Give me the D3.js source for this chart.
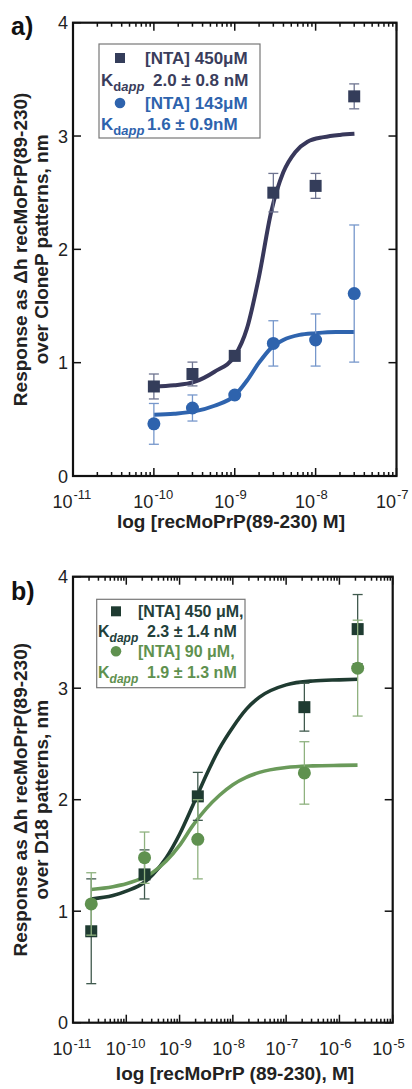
<!DOCTYPE html>
<meta charset="utf-8">
<html>
<head>
<style>
  body { margin: 0; background: #fff; }
  text { font-family: "Liberation Sans", Arial, sans-serif; }
  text.tick { font-size: 18px; fill: #222; }
  text.sup { font-size: 13px; fill: #222; }
  text.title { font-size: 19px; font-weight: bold; fill: #222; }
  text.panel { font-size: 25px; font-weight: bold; fill: #111; }
  text.leg { font-weight: bold; }
</style>
<script src="https://cdn.jsdelivr.net/npm/d3@7"></script>
</head>
<body>
<div id="chart"></div>
<script>
// ---- panel a data (CloneP patterns) ----
var concA = [1e-10, 3e-10, 1e-9, 3e-9, 1e-8, 3e-8];
var a450 = [0.79, 0.90, 1.06, 2.50, 2.56, 3.35];
var a450err = [0.11, 0.105, 0.03, 0.17, 0.11, 0.11];
var a143 = [0.46, 0.60, 0.715, 1.17, 1.20, 1.61];
var a143err = [0.18, 0.115, 0.03, 0.20, 0.23, 0.605];
// fitted curves: log10 conc / response
var fitA450_logx = [-10, -9.75, -9.5, -9.25, -9, -8.85, -8.7, -8.55, -8.4, -8.25, -8.1, -7.9, -7.7, -7.52];
var fitA450_y    = [0.79, 0.80, 0.83, 0.92, 1.06, 1.30, 1.76, 2.33, 2.68, 2.86, 2.95, 2.99, 3.01, 3.02];
var fitA143_logx = [-10, -9.75, -9.5, -9.25, -9, -8.85, -8.7, -8.55, -8.4, -8.2, -8, -7.75, -7.52];
var fitA143_y    = [0.54, 0.55, 0.57, 0.62, 0.71, 0.84, 1.00, 1.13, 1.20, 1.245, 1.26, 1.27, 1.27];

// ---- panel b data (D18 patterns) ----
var concB = [2.2e-11, 2.2e-10, 2.2e-9, 2.2e-7, 2.2e-6];
var b450 = [0.82, 1.33, 2.03, 2.83, 3.53];
var b450err = [0.47, 0.22, 0.215, 0.215, 0.31];
var b90 = [1.065, 1.48, 1.645, 2.24, 3.18];
var b90err = [0.28, 0.23, 0.355, 0.28, 0.43];
var fitB450_logx = [-10.66, -10.25, -10, -9.66, -9.5, -9.25, -9, -8.75, -8.5, -8.25, -8, -7.75, -7.5, -7, -6.5, -6, -5.66];
var fitB450_y    = [1.11, 1.14, 1.18, 1.26, 1.33, 1.48, 1.69, 1.95, 2.22, 2.46, 2.65, 2.81, 2.92, 3.03, 3.065, 3.075, 3.08];
var fitB90_logx  = [-10.66, -10.25, -10, -9.66, -9.5, -9.25, -9, -8.75, -8.5, -8.25, -8, -7.75, -7.5, -7, -6.5, -6, -5.66];
var fitB90_y     = [1.195, 1.22, 1.246, 1.305, 1.35, 1.45, 1.59, 1.77, 1.92, 2.04, 2.135, 2.20, 2.245, 2.288, 2.303, 2.308, 2.31];

var yTicks = [0, 1, 2, 3, 4];

var svg = d3.select("#chart").append("svg")
    .attr("width", 412)
    .attr("height", 1089);

function drawPanel(p) {
  var x = d3.scaleLog().domain(p.xDomain).range([p.left, p.right]);
  var y = d3.scaleLinear().domain([0, 4]).range([p.bottom, p.top]);
  var g = svg.append("g");

  // curves
  var line = d3.line()
      .x(function(d) { return x(Math.pow(10, d[0])); })
      .y(function(d) { return y(d[1]); })
      .curve(d3.curveMonotoneX);
  p.series.forEach(function(s) {
    g.append("path")
      .datum(d3.zip(s.fitX, s.fitY))
      .attr("d", line)
      .attr("fill", "none")
      .attr("stroke", s.curveColor)
      .attr("stroke-width", p.curveWidth)
      .attr("stroke-linecap", "butt");
  });

  // error bars + markers
  p.series.forEach(function(s) {
    var pts = d3.zip(p.conc, s.y, s.err);
    var eb = g.append("g").attr("stroke", s.errColor).attr("stroke-width", 1.3);
    pts.forEach(function(d) {
      var cx = x(d[0]);
      eb.append("line").attr("x1", cx).attr("x2", cx).attr("y1", y(d[1] - d[2])).attr("y2", y(d[1] + d[2]));
      eb.append("line").attr("x1", cx - 5).attr("x2", cx + 5).attr("y1", y(d[1] - d[2])).attr("y2", y(d[1] - d[2]));
      eb.append("line").attr("x1", cx - 5).attr("x2", cx + 5).attr("y1", y(d[1] + d[2])).attr("y2", y(d[1] + d[2]));
    });
    if (s.shape === "square") {
      g.selectAll(null).data(pts).enter().append("rect")
        .attr("x", function(d) { return x(d[0]) - 6; })
        .attr("y", function(d) { return y(d[1]) - 6; })
        .attr("width", 12).attr("height", 12)
        .attr("fill", s.color);
    } else {
      g.selectAll(null).data(pts).enter().append("circle")
        .attr("cx", function(d) { return x(d[0]); })
        .attr("cy", function(d) { return y(d[1]); })
        .attr("r", 6.5)
        .attr("fill", s.color);
    }
  });

  // frame
  g.append("rect")
    .attr("x", p.left).attr("y", p.top)
    .attr("width", p.right - p.left).attr("height", p.bottom - p.top)
    .attr("fill", "none").attr("stroke", "#111").attr("stroke-width", 2.2);

  // x ticks, inward on top and bottom
  var lo = Math.round(Math.log10(p.xDomain[0])), hi = Math.round(Math.log10(p.xDomain[1]));
  var tk = g.append("g").attr("stroke", "#111").attr("stroke-width", 1.5);
  for (var e = lo; e <= hi; e++) {
    for (var k = 1; k <= 9; k++) {
      var v = k * Math.pow(10, e);
      if (v > p.xDomain[1] * 1.0001) break;
      var len = k === 1 ? 8 : 4;
      var xx = x(v);
      tk.append("line").attr("x1", xx).attr("x2", xx).attr("y1", p.bottom).attr("y2", p.bottom - len);
      tk.append("line").attr("x1", xx).attr("x2", xx).attr("y1", p.top).attr("y2", p.top + len);
    }
    g.append("text").attr("class", "tick").attr("x", x(Math.pow(10, e)) - 0.5).attr("y", p.bottom + 32)
      .attr("text-anchor", "end").text("10");
    g.append("text").attr("class", "sup").attr("x", x(Math.pow(10, e)) + 0.5).attr("y", p.bottom + 32 - p.supRise)
      .attr("text-anchor", "start").text("-" + Math.abs(e));
  }

  // y ticks, inward on left and right
  yTicks.forEach(function(t) {
    tk.append("line").attr("x1", p.left).attr("x2", p.left + 8).attr("y1", y(t)).attr("y2", y(t));
    tk.append("line").attr("x1", p.right).attr("x2", p.right - 8).attr("y1", y(t)).attr("y2", y(t));
    g.append("text").attr("class", "tick").attr("x", p.left - 5).attr("y", y(t) + 6.5)
      .attr("text-anchor", "end").text(t);
  });

  // axis titles
  g.append("text").attr("class", "title").attr("x", p.xTitleX).attr("y", p.bottom + p.xTitleDy)
    .attr("text-anchor", "middle").text(p.xTitle);
  var ymid = (p.top + p.bottom) / 2;
  g.append("text").attr("class", "title").attr("text-anchor", "middle")
    .attr("transform", "translate(27," + ymid + ") rotate(-90)").text(p.yTitle[0]);
  g.append("text").attr("class", "title").attr("text-anchor", "middle")
    .attr("transform", "translate(48," + ymid + ") rotate(-90)").text(p.yTitle[1]);

  // panel letter
  g.append("text").attr("class", "panel").attr("x", 11).attr("y", p.top + p.letterDy).text(p.letter);

  // legend
  var L = p.legend;
  g.append("rect").attr("x", L.x).attr("y", L.y).attr("width", L.w).attr("height", L.h)
    .attr("fill", "#fff").attr("stroke", "#777").attr("stroke-width", 1.2);
  L.rows.forEach(function(r, i) {
    var s = p.series[r.series];
    var by = L.y + L.base[i];
    if (r.marker === "square") {
      g.append("rect").attr("x", L.markX - 5).attr("y", by - 11).attr("width", 10).attr("height", 10).attr("fill", s.color);
    } else if (r.marker === "circle") {
      g.append("circle").attr("cx", L.markX).attr("cy", by - 6).attr("r", 5.3).attr("fill", s.color);
    }
    if (r.marker) {
      g.append("text").attr("class", "leg").attr("x", L.textX).attr("y", by)
        .style("font-size", L.fs + "px").attr("fill", s.legColor).text(r.text);
    } else {
      var t = g.append("text").attr("class", "leg").attr("x", L.kX).attr("y", by)
        .style("font-size", L.fs + "px").attr("fill", s.legColor);
      t.append("tspan").text("K");
      t.append("tspan").attr("dy", 5).style("font-size", (L.fs - 4) + "px")
        .style("font-style", L.allItalic ? "italic" : "normal").text("d");
      t.append("tspan").style("font-size", (L.fs - 4) + "px").style("font-style", "italic").text("app");
      t.append("tspan").attr("x", r.numX).attr("dy", -5).text(r.text);
    }
  });
}

drawPanel({
  xDomain: [1e-11, 1e-7], left: 73, right: 396.5, top: 22.7, bottom: 476,
  conc: concA, curveWidth: 4, supRise: 9,
  xTitle: "log [recMoPrP(89-230) M]", xTitleX: 231, xTitleDy: 52,
  yTitle: ["Response as \u0394h recMoPrP(89-230)", "over CloneP patterns, nm"],
  letter: "a)", letterDy: 12,
  series: [
    { y: a450, err: a450err, shape: "square", color: "#343d5a", curveColor: "#38385b", errColor: "#6e7490",
      legColor: "#3a3d5c", fitX: fitA450_logx, fitY: fitA450_y },
    { y: a143, err: a143err, shape: "circle", color: "#2e63ad", curveColor: "#2f64ae", errColor: "#7697cb",
      legColor: "#2e63ad", fitX: fitA143_logx, fitY: fitA143_y }
  ],
  legend: { x: 99, y: 44, w: 161, h: 94, fs: 17, markX: 120, textX: 145, kX: 101, allItalic: false,
    base: [20, 42, 65, 86],
    rows: [
      { series: 0, marker: "square", text: "[NTA] 450\u03bcM" },
      { series: 0, text: "2.0 \u00b1 0.8 nM", numX: 153 },
      { series: 1, marker: "circle", text: "[NTA] 143\u03bcM" },
      { series: 1, text: "1.6 \u00b1 0.9nM", numX: 147 }
    ] }
});

drawPanel({
  xDomain: [1e-11, 1e-5], left: 73, right: 392.7, top: 576.7, bottom: 1022.7,
  conc: concB, curveWidth: 3.6, supRise: 7,
  xTitle: "log [recMoPrP (89-230), M]", xTitleX: 235, xTitleDy: 57,
  yTitle: ["Response as \u0394h recMoPrP(89-230)", "over D18 patterns, nm"],
  letter: "b)", letterDy: 23,
  series: [
    { y: b450, err: b450err, shape: "square", color: "#1f3b31", curveColor: "#1f3b31", errColor: "#405a4e",
      legColor: "#23403a", fitX: fitB450_logx, fitY: fitB450_y },
    { y: b90, err: b90err, shape: "circle", color: "#5f914f", curveColor: "#6a9a5a", errColor: "#8fb27f",
      legColor: "#5f914f", fitX: fitB90_logx, fitY: fitB90_y }
  ],
  legend: { x: 96.7, y: 599.3, w: 148.3, h: 88.4, fs: 16, markX: 116, textX: 138, kX: 98, allItalic: true,
    base: [18, 38, 58, 78.5],
    rows: [
      { series: 0, marker: "square", text: "[NTA] 450 \u03bcM," },
      { series: 0, text: "2.3 \u00b1 1.4 nM", numX: 147 },
      { series: 1, marker: "circle", text: "[NTA] 90 \u03bcM," },
      { series: 1, text: "1.9 \u00b1 1.3 nM", numX: 147 }
    ] }
});
</script>
</body>
</html>
